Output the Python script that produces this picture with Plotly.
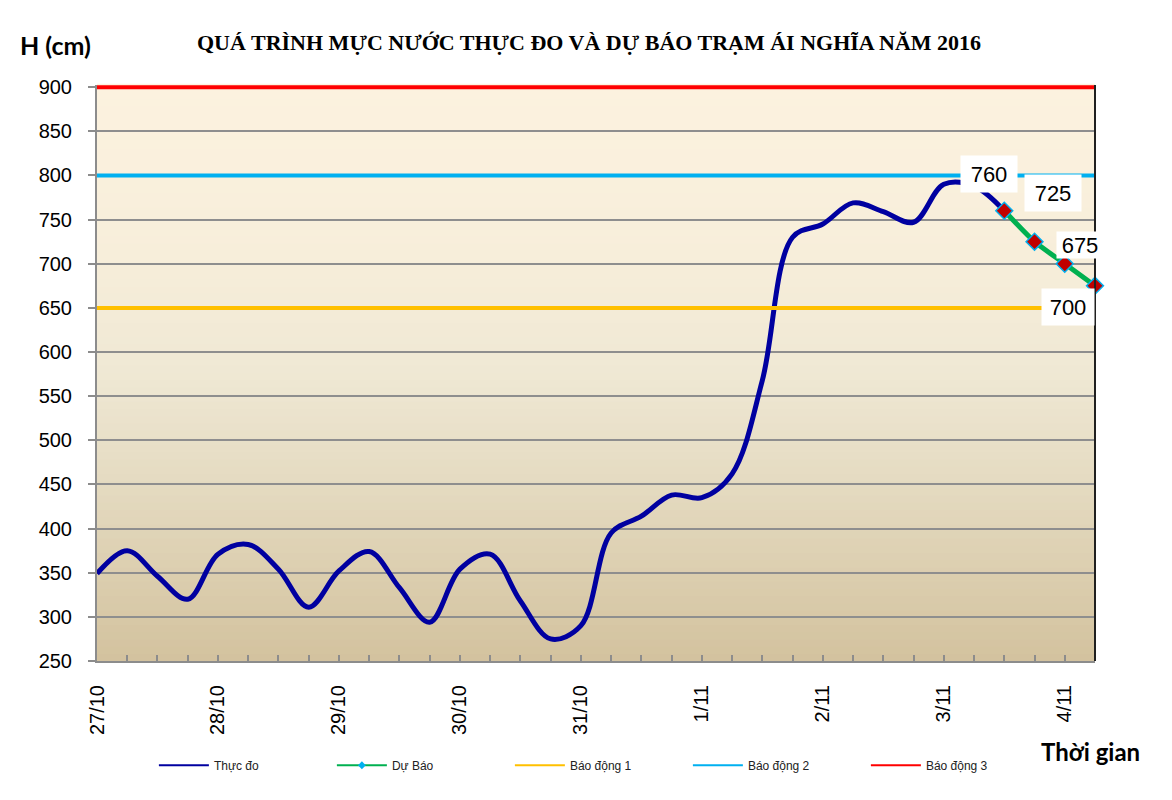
import plotly.graph_objects as go

# ---------------- data ----------------
step_hours = 6
observed = [349, 375, 346, 320, 371, 382, 354, 311, 352, 374, 333, 294, 354, 371,
            318, 275, 290, 395, 414, 438, 435, 462, 568, 730, 745, 769, 759, 747,
            790, 788, 760]
forecast = [760, 725, 700, 675]
forecast_start = 30
forecast_labels = ["760", "725", "675", "700"]
day_labels = ["27/10", "28/10", "29/10", "30/10", "31/10", "1/11", "2/11", "3/11", "4/11"]
alarm_names = ["Báo động 1", "Báo động 2", "Báo động 3"]
alarm_levels = [650, 800, 900]
alarm_colors = ["#FFC000", "#00B0F0", "#FF0000"]

n_points = forecast_start + len(forecast)
x_obs = [i * step_hours for i in range(len(observed))]
x_fc = [(forecast_start + i) * step_hours for i in range(len(forecast))]
x_end = (n_points - 1) * step_hours
tick_vals = [i * 24 for i in range(len(day_labels))]

OBS_COLOR = "#0000A0"
FC_COLOR = "#00B050"

fig = go.Figure()

fig.add_trace(go.Scatter(
    x=x_obs, y=observed, name="Thực đo", mode="lines", showlegend=False,
    line=dict(color=OBS_COLOR, width=5, shape="spline", smoothing=1.0),
))
fig.add_trace(go.Scatter(
    x=x_fc, y=forecast, name="Dự Báo", mode="lines+markers", showlegend=False,
    line=dict(color=FC_COLOR, width=5, shape="spline", smoothing=0.6),
    marker=dict(symbol="diamond", size=13, color="#C00000",
                line=dict(color="#00B0F0", width=1.5)),
    cliponaxis=False,
))
for nm, lv, col in zip(alarm_names, alarm_levels, alarm_colors):
    fig.add_trace(go.Scatter(
        x=[0, x_end], y=[lv, lv], name=nm, mode="lines", showlegend=False,
        line=dict(color=col, width=4),
    ))

# legend entries (thin lines like the original legend)
fig.add_trace(go.Scatter(x=[None], y=[None], name="Thực đo", mode="lines",
                         line=dict(color=OBS_COLOR, width=2)))
fig.add_trace(go.Scatter(x=[None], y=[None], name="Dự Báo", mode="lines+markers",
                         line=dict(color=FC_COLOR, width=2),
                         marker=dict(symbol="diamond", size=6, color="#00B0F0")))
for nm, col in zip(alarm_names, alarm_colors):
    fig.add_trace(go.Scatter(x=[None], y=[None], name=nm, mode="lines",
                             line=dict(color=col, width=2)))

# forecast value labels (white boxes)
offsets = [(-15, 37), (18, 49), (15, 19), (-27, -21)]
box_sizes = [(50, 30), (50, 30), (40, 20), (46, 30)]
for xv, yv, txt, (dx, dy), (bw, bh) in zip(x_fc, forecast, forecast_labels, offsets, box_sizes):
    fig.add_annotation(
        x=xv, y=yv, text=txt, showarrow=False, xshift=dx, yshift=dy,
        width=bw, height=bh, align="center", valign="middle",
        font=dict(family="Liberation Sans, Arial", size=22, color="black"),
        bgcolor="white", borderpad=3,
    )

# background gradient of the plot area
def lerp(c1, c2, t):
    a = [int(c1[i:i + 2], 16) for i in (1, 3, 5)]
    b = [int(c2[i:i + 2], 16) for i in (1, 3, 5)]
    return "rgb(%d,%d,%d)" % tuple(round(a[k] + (b[k] - a[k]) * t) for k in range(3))

stops = [(0.0, "#D3C29E"), (0.3, "#E4DAC0"), (0.5, "#EFE8D4"), (0.7, "#F7EEDA"), (1.0, "#FCF2DF")]
nb = 80
shapes = []
for k in range(nb):
    f = (k + 0.5) / nb
    for j in range(len(stops) - 1):
        if stops[j][0] <= f <= stops[j + 1][0]:
            t = (f - stops[j][0]) / (stops[j + 1][0] - stops[j][0])
            col = lerp(stops[j][1], stops[j + 1][1], t)
            break
    shapes.append(dict(type="rect", xref="x domain", yref="y domain",
                       x0=0, x1=1, y0=k / nb, y1=(k + 1) / nb + 0.002,
                       fillcolor=col, line=dict(width=0), layer="below"))
# right border of plot area
shapes.append(dict(type="line", xref="x domain", yref="y domain", x0=1, x1=1, y0=0, y1=1,
                   line=dict(color="#202020", width=2), layer="above"))
# outer chart border (left)
shapes.append(dict(type="line", xref="paper", yref="paper", x0=-0.093, x1=-0.093, y0=-0.25, y1=1.2,
                   line=dict(color="#A0A0A0", width=1.5)))

fig.update_layout(
    width=1164, height=792,
    margin=dict(l=89, r=77, t=77, b=139, autoexpand=False),
    paper_bgcolor="white", plot_bgcolor="#F3EBD6",
    shapes=shapes,
    showlegend=True,
    legend=dict(orientation="h", x=0.057, y=-0.181, xanchor="left", yanchor="middle",
                font=dict(family="Liberation Sans Narrow, Arial Narrow, Liberation Sans", size=12, color="#222"),
                entrywidth=113, entrywidthmode="pixels", itemwidth=50,
                bgcolor="rgba(0,0,0,0)", traceorder="normal"),
    font=dict(family="Liberation Sans, Arial"),
)

fig.update_xaxes(
    range=[0, x_end], tickmode="array", tickvals=tick_vals, ticktext=day_labels,
    tickangle=-90, tickfont=dict(family="Liberation Sans, Arial", size=20, color="black"),
    showgrid=False, zeroline=False, automargin=False,
    showline=True, linecolor="#8C8C8C", linewidth=2,
    ticks="inside", ticklen=6, tickcolor="#8C8C8C", tickwidth=1.5,
    minor=dict(ticks="inside", ticklen=6, tickcolor="#8C8C8C", tickwidth=1.5, dtick=step_hours, tick0=0, showgrid=False),
    ticklabelstandoff=14,
)
fig.update_yaxes(
    range=[250, 902.5], dtick=50, tick0=250,
    tickfont=dict(family="Liberation Sans, Arial", size=20, color="black"),
    showgrid=True, gridcolor="#8E8E8E", gridwidth=1.5, zeroline=False, automargin=False,
    showline=True, linecolor="#8C8C8C", linewidth=2,
    ticks="outside", ticklen=7, tickcolor="#8C8C8C", tickwidth=1.5,
    ticklabelstandoff=12,
)

fig.add_annotation(
    xref="paper", yref="paper", x=0.493, y=1.0736, xanchor="center", yanchor="middle",
    text="<b>QUÁ TRÌNH MỰC NƯỚC THỰC ĐO VÀ DỰ BÁO TRẠM ÁI NGHĨA NĂM 2016</b>",
    showarrow=False, font=dict(family="Liberation Serif, Times New Roman", size=22, color="black"),
)
fig.add_annotation(
    xref="paper", yref="paper", x=-0.0795, y=1.07, xanchor="left", yanchor="middle",
    text="<b>H (cm)</b>", showarrow=False,
    font=dict(family="Lato, Open Sans", size=25, color="black"),
)
fig.add_annotation(
    xref="paper", yref="paper", x=0.995, y=-0.157, xanchor="center", yanchor="middle",
    text="<b>Thời gian</b>", showarrow=False,
    font=dict(family="Lato, Open Sans", size=24, color="black"),
)

fig.write_html("out.html")
